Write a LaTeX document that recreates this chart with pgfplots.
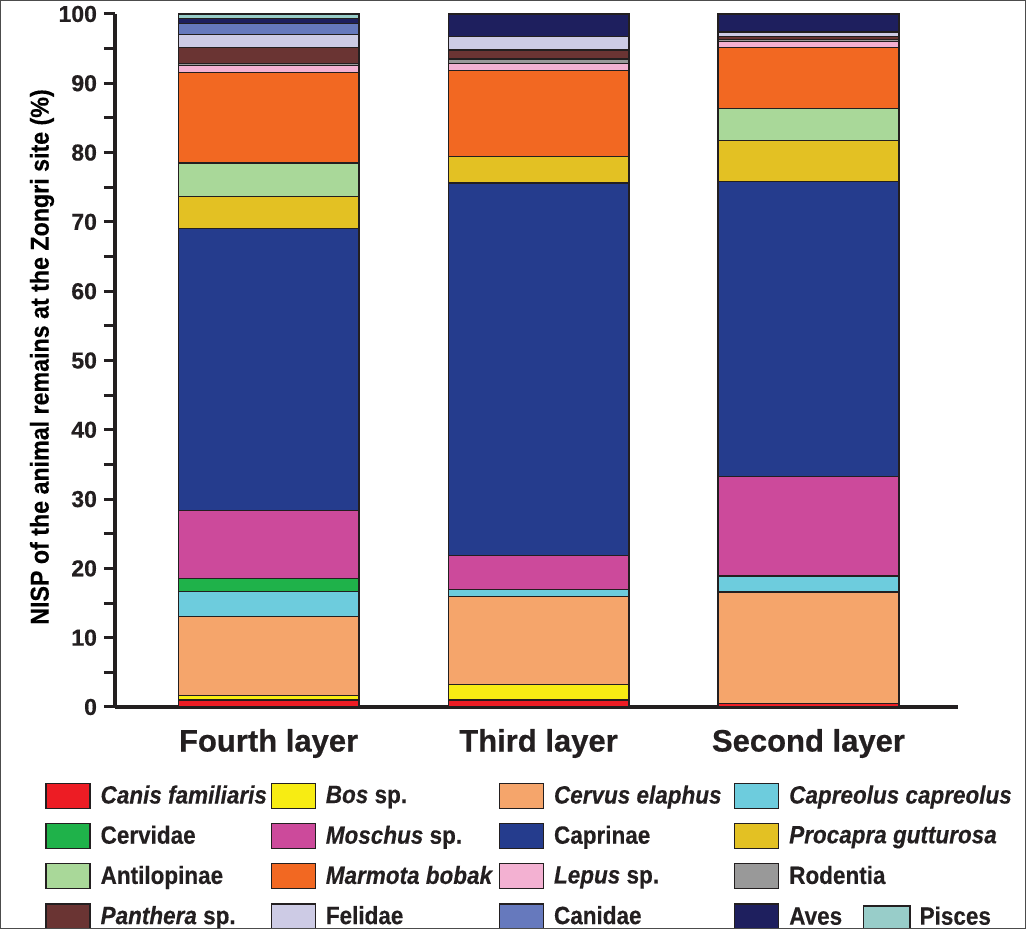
\documentclass[border=0pt]{standalone}
\usepackage{pgfplots}
\pgfplotsset{compat=1.18}
\usepackage{fontspec}
\setmainfont{Liberation Sans}[FakeStretch=0.9, FakeBold=0.3]
\newfontfamily\heavy{Liberation Sans}[FakeBold=0.6]
\definecolor{canis}{HTML}{ED1C24}
\definecolor{bos}{HTML}{F7EC13}
\definecolor{cervus}{HTML}{F5A56B}
\definecolor{capreolus}{HTML}{6DCCDD}
\definecolor{cervidae}{HTML}{1FB24A}
\definecolor{moschus}{HTML}{CC4A9B}
\definecolor{caprinae}{HTML}{253C8D}
\definecolor{procapra}{HTML}{E3C123}
\definecolor{antilopinae}{HTML}{A9D899}
\definecolor{marmota}{HTML}{F26822}
\definecolor{lepus}{HTML}{F3B1D2}
\definecolor{rodentia}{HTML}{999999}
\definecolor{panthera}{HTML}{6A3433}
\definecolor{felidae}{HTML}{CDCBE5}
\definecolor{canidae}{HTML}{6679BD}
\definecolor{aves}{HTML}{1E1F5E}
\definecolor{pisces}{HTML}{98CDC9}
\definecolor{txt}{HTML}{231F20}
\begin{document}
\begin{tikzpicture}
\useasboundingbox (-57.5pt,-111pt) rectangle (455.5pt,353.5pt);
\begin{axis}[
  scale only axis,
  width=421.5pt, height=346.5pt,
  xmin=-0.569, xmax=2.554,
  ymin=0, ymax=100,
  ybar stacked,
  bar width=0.67,
  axis x line*=bottom, axis y line*=left,
  axis line style={line width=2pt, -, txt},
  xtick={0,1,2},
  xticklabels={Fourth layer, Third layer, Second layer},
  x tick style={draw=none},
  xticklabel style={font=\heavy\bfseries\fontsize{15.5}{18}\selectfont, text=txt, yshift=-2pt},
  ytick={0,10,...,100},
  minor ytick={5,15,...,95},
  tick align=outside,
  major tick length=5.5pt, minor tick length=5.5pt,
  y tick style={line width=1.5pt, txt},
  yticklabel style={font=\heavy\bfseries\fontsize{11.5}{13}\selectfont, text=txt},
  /pgf/number format/assume math mode=true,
  every axis y label/.style={at={(axis description cs:-0.0866,0.505)}, rotate=90, anchor=center},
  ylabel={\bfseries\fontsize{12.9}{15}\selectfont NISP of the animal remains at the Zongri site (\%)},
  every axis plot/.append style={draw=txt, line width=0.6pt},
  legend image code/.code={\draw[#1, line width=0.6pt] (0pt,-6.25pt) rectangle (22pt,6.25pt);},
  legend cell align=left,
  legend style={at={(axis description cs:-0.0830,-0.1089)}, anchor=north west, draw=none, fill=none,
    inner sep=0pt, font=\bfseries\fontsize{12.5}{14}\selectfont, text=txt,
    nodes={inner sep=0pt},
    /tikz/every odd column/.append style={column sep=5pt},
    /tikz/every even column/.append style={column sep=0pt},
    row sep=7pt},
  legend columns=4,
]
\addplot[fill=canis] coordinates {(0,1.0) (1,1.0) (2,0.5)};
\addlegendentry{\makebox[85pt][l]{\itshape Canis familiaris}}
\addplot[fill=bos] coordinates {(0,0.7) (1,2.2) (2,0)};
\addlegendentry{\makebox[86.5pt][l]{\textit{Bos} sp.}}
\addplot[fill=cervus] coordinates {(0,11.4) (1,12.8) (2,16.1)};
\addlegendentry{\makebox[90pt][l]{\itshape Cervus elaphus}}
\addplot[fill=capreolus] coordinates {(0,3.6) (1,0.9) (2,2.3)};
\addlegendentry{\itshape Capreolus capreolus}
\addplot[fill=cervidae] coordinates {(0,1.8) (1,0) (2,0)};
\addlegendentry{\makebox[85pt][l]{Cervidae}}
\addplot[fill=moschus] coordinates {(0,9.9) (1,5.0) (2,14.4)};
\addlegendentry{\makebox[86.5pt][l]{\textit{Moschus} sp.}}
\addplot[fill=caprinae] coordinates {(0,40.7) (1,53.7) (2,42.5)};
\addlegendentry{\makebox[90pt][l]{Caprinae}}
\addplot[fill=procapra] coordinates {(0,4.6) (1,3.8) (2,5.9)};
\addlegendentry{\itshape Procapra gutturosa}
\addplot[fill=antilopinae] coordinates {(0,4.8) (1,0) (2,4.7)};
\addlegendentry{\makebox[85pt][l]{Antilopinae}}
\addplot[fill=marmota] coordinates {(0,13.1) (1,12.4) (2,8.8)};
\addlegendentry{\makebox[86.5pt][l]{\itshape Marmota bobak}}
\addplot[fill=lepus] coordinates {(0,1.0) (1,1.1) (2,0.8)};
\addlegendentry{\makebox[90pt][l]{\textit{Lepus} sp.}}
\addplot[fill=rodentia] coordinates {(0,0.3) (1,0.6) (2,0.3)};
\addlegendentry{Rodentia}
\addplot[fill=panthera] coordinates {(0,2.3) (1,1.3) (2,0.4)};
\addlegendentry{\makebox[85pt][l]{\textit{Panthera} sp.}}
\addplot[fill=felidae] coordinates {(0,1.8) (1,2.0) (2,0.7)};
\addlegendentry{\makebox[86.5pt][l]{Felidae}}
\addplot[fill=canidae] coordinates {(0,1.6) (1,0) (2,0)};
\addlegendentry{\makebox[90pt][l]{Canidae}}
\addplot[fill=aves] coordinates {(0,0.8) (1,3.2) (2,2.6)};
\addlegendentry{\makebox[37pt][l]{Aves}{\setlength\fboxsep{0pt}\setlength\fboxrule{0.6pt}\raisebox{-3pt}{\fcolorbox{txt}{pisces}{\rule{0pt}{12pt}\hspace{22.5pt}}}}\hspace{4.5pt}Pisces}
\addplot[fill=pisces] coordinates {(0,0.6) (1,0) (2,0)};
\end{axis}
\draw[line width=0.6pt, black!70] (-57.2pt,-110.7pt) rectangle (455.2pt,353.2pt);
\end{tikzpicture}
\end{document}
